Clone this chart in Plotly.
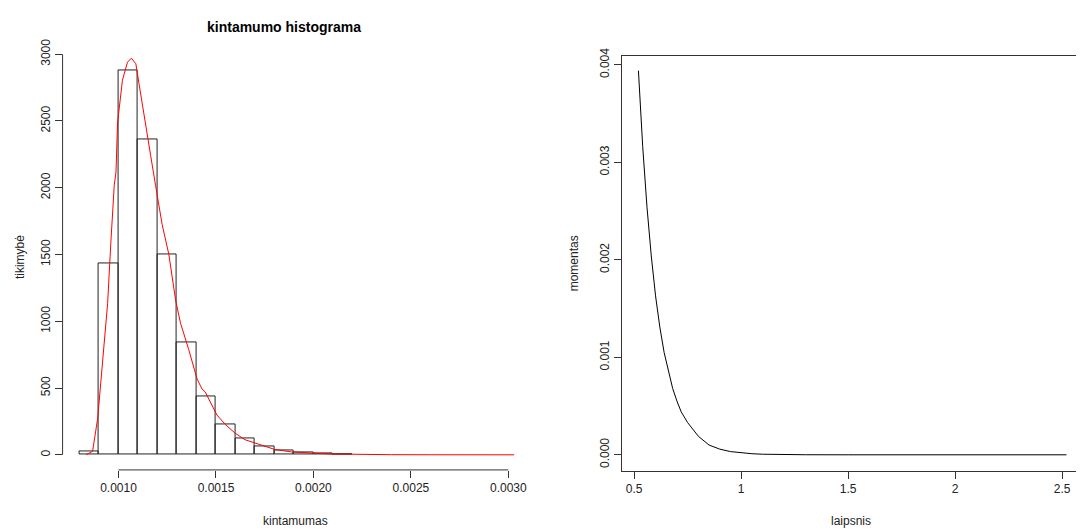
import plotly.graph_objects as go

W, H = 1083, 529
OFF = 0  # page body margin removed via post_script below

# ---------------- data: left panel (histogram + density) ----------------
bin_edges = [0.0008, 0.0009, 0.0010, 0.0011, 0.0012, 0.0013, 0.0014, 0.0015,
             0.0016, 0.0017, 0.0018, 0.0019, 0.0020, 0.0021, 0.0022]
bin_heights = [22, 1434, 2879, 2365, 1502, 841, 435, 229, 121, 66, 32, 15, 8, 3]

dens_x = [0.000834, 0.000867, 0.000893, 0.000907, 0.000927, 0.000944, 0.000961,
          0.000978, 0.000987, 0.000995, 0.00102, 0.001046, 0.001066, 0.001089,
          0.001105, 0.001131, 0.001165, 0.00119, 0.001224, 0.001258, 0.001293,
          0.001318, 0.00136, 0.001403, 0.001428, 0.001445, 0.001488, 0.001505,
          0.001547, 0.001598, 0.001649, 0.0017, 0.001751, 0.001802, 0.001887,
          0.00195, 0.0020, 0.0021, 0.0022, 0.0024, 0.0026, 0.0028, 0.00303]
dens_y = [0, 27, 273, 521, 890, 1133, 1600,
          2018, 2117, 2485, 2805, 2940, 2970, 2928,
          2780, 2559, 2240, 2018, 1723, 1502, 1158,
          986, 789, 568, 494, 470, 347, 298,
          229, 162, 113, 89, 64, 40, 22,
          15, 12, 6, 3, 1, 0.5, 0.2, 0]

left_xticks = [0.0010, 0.0015, 0.0020, 0.0025, 0.0030]
left_xticklabels = ["0.0010", "0.0015", "0.0020", "0.0025", "0.0030"]
left_yticks = [0, 500, 1000, 1500, 2000, 2500, 3000]
left_yticklabels = ["0", "500", "1000", "1500", "2000", "2500", "3000"]

# ---------------- data: right panel (moment curve) ----------------
deg_x = [0.52, 0.54, 0.56, 0.58, 0.60, 0.62, 0.64, 0.66, 0.68, 0.70, 0.72,
         0.75, 0.80, 0.85, 0.90, 0.95, 1.00, 1.05, 1.10, 1.20, 1.30, 1.50,
         2.00, 2.52]
mom_y = [0.00394, 0.00316, 0.00254, 0.00204, 0.00163, 0.00131, 0.00105,
         0.00085, 0.00068, 0.00055, 0.00044, 0.00033, 0.00019, 0.00010,
         0.000058, 0.000033, 0.000019, 0.000011, 0.000006, 0.000002,
         0.0000007, 0.0, 0.0, 0.0]

right_xticks = [0.5, 1, 1.5, 2, 2.5]
right_xticklabels = ["0.5", "1", "1.5", "2", "2.5"]
right_yticks = [0.000, 0.001, 0.002, 0.003, 0.004]
right_yticklabels = ["0.000", "0.001", "0.002", "0.003", "0.004"]

# ---------------- figure ----------------
centers = [(a + b) / 2 for a, b in zip(bin_edges[:-1], bin_edges[1:])]
widths = [b - a for a, b in zip(bin_edges[:-1], bin_edges[1:])]

FONT = "Liberation Sans, Arial, sans-serif"
AX = "#333333"

fig = go.Figure()
fig.add_trace(go.Bar(x=centers, y=bin_heights, width=widths,
                     marker=dict(color="rgba(0,0,0,0)", line=dict(color="#222222", width=1)),
                     xaxis="x", yaxis="y", showlegend=False, hoverinfo="skip"))
fig.add_trace(go.Scatter(x=dens_x, y=dens_y, mode="lines",
                         line=dict(color="#ff0000", width=1),
                         xaxis="x", yaxis="y", showlegend=False))
fig.add_trace(go.Scatter(x=deg_x, y=mom_y, mode="lines",
                         line=dict(color="#000000", width=1),
                         xaxis="x2", yaxis="y2", showlegend=False))


def px_x(p):
    return (p - OFF) / W


def px_y(p):
    return 1 - (p - OFF) / H


tickfont = dict(family=FONT, size=12, color="#222222")

fig.update_layout(
    width=W, height=H,
    margin=dict(l=0, r=0, t=0, b=0),
    paper_bgcolor="white", plot_bgcolor="white",
    font=dict(family=FONT, size=12, color="#000000"),
    bargap=0,
    xaxis=dict(domain=[px_x(63), px_x(523)], range=[0.000713, 0.003058],
               tickvals=left_xticks, ticktext=left_xticklabels,
               ticks="outside", ticklen=7, tickcolor=AX, tickwidth=1,
               showline=False, showgrid=False, zeroline=False,
               tickfont=tickfont, anchor="y"),
    yaxis=dict(domain=[px_y(469), px_y(37)], range=[-113, 3073],
               tickvals=left_yticks, ticktext=left_yticklabels,
               ticks="outside", ticklen=7, tickcolor=AX, tickwidth=1,
               tickangle=-90,
               showline=False, showgrid=False, zeroline=False,
               tickfont=tickfont, anchor="x"),
    xaxis2=dict(domain=[px_x(626), 1.0], range=[0.443, 2.5645],
                tickvals=right_xticks, ticktext=right_xticklabels,
                ticks="outside", ticklen=7, tickcolor=AX, tickwidth=1,
                showline=True, linecolor=AX, linewidth=1, mirror=True,
                showgrid=False, zeroline=False,
                tickfont=tickfont, anchor="y2"),
    yaxis2=dict(domain=[px_y(470), px_y(48.3)], range=[-0.000165, 0.004095],
                tickvals=right_yticks, ticktext=right_yticklabels,
                ticks="outside", ticklen=7, tickcolor=AX, tickwidth=1,
                tickangle=-90,
                showline=True, linecolor=AX, linewidth=1, mirror=False,
                showgrid=False, zeroline=False,
                tickfont=tickfont, anchor="x2"),
)

# R-style axis lines on the left panel (span first to last tick only)
fig.add_shape(type="line", xref="x domain", yref="y",
              x0=0, x1=0, y0=left_yticks[0], y1=left_yticks[-1],
              line=dict(color=AX, width=1))
fig.add_shape(type="line", xref="x", yref="y domain",
              x0=left_xticks[0], x1=left_xticks[-1], y0=0, y1=0,
              line=dict(color=AX, width=1))

annots = [
    dict(text="<b>kintamumo histograma</b>", x=px_x(286), y=px_y(19),
         font=dict(family=FONT, size=14, color="#000000")),
    dict(text="kintamumas", x=px_x(297), y=px_y(521),
         font=dict(family=FONT, size=12, color="#222222")),
    dict(text="tikimybė", x=px_x(20), y=px_y(253), textangle=-90,
         font=dict(family=FONT, size=12, color="#222222")),
    dict(text="laipsnis", x=px_x(857), y=px_y(521),
         font=dict(family=FONT, size=12, color="#222222")),
    dict(text="momentas", x=px_x(578), y=px_y(259), textangle=-90,
         font=dict(family=FONT, size=12, color="#222222")),
]
for a in annots:
    fig.add_annotation(xref="paper", yref="paper", showarrow=False,
                       xanchor="center", yanchor="middle", **a)

fig.write_html(
    "out.html",
    config={"displayModeBar": False},
    post_script="document.body.style.margin='0';document.body.style.overflow='hidden';",
)
